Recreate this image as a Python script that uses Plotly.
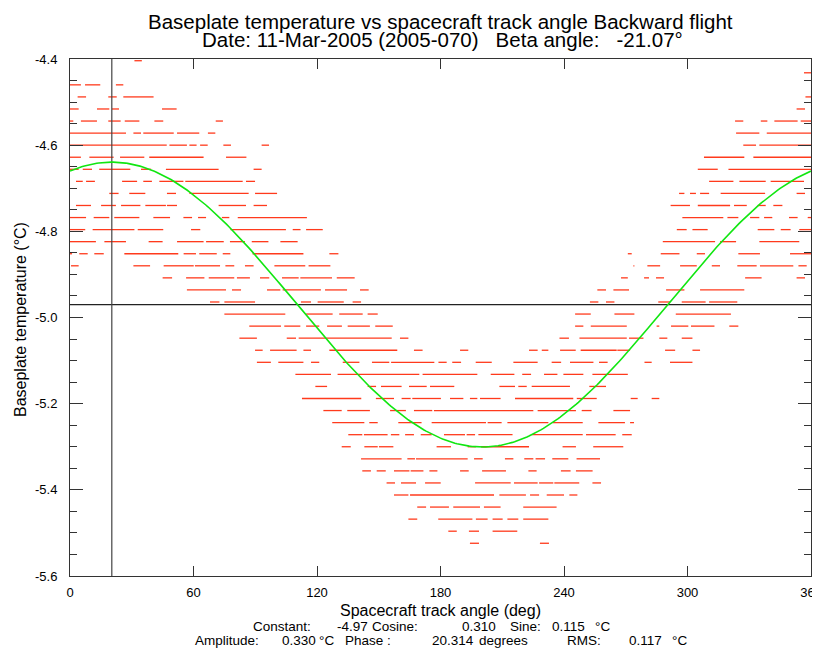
import numpy as np
import plotly.graph_objects as go

# ---------------- data ----------------
# quantised baseplate temperature levels (deg C), top to bottom
level_temps = [-4.404, -4.432, -4.460, -4.488, -4.516, -4.544, -4.572, -4.600,
               -4.628, -4.656, -4.684, -4.712, -4.740, -4.768, -4.796, -4.824,
               -4.852, -4.880, -4.908, -4.936, -4.964, -4.992, -5.020, -5.048,
               -5.076, -5.104, -5.132, -5.160, -5.188, -5.216, -5.244, -5.272,
               -5.300, -5.328, -5.356, -5.384, -5.412, -5.440, -5.468, -5.496,
               -5.524]

# track-angle runs (start, end in deg) where samples sit on each level
seg_4404 = [(31.3, 34.9)]
seg_4432 = [(356.6, 360)]
seg_4460 = [(0, 5.3), (7.3, 14.7), (22.3, 25.9)]
seg_4488 = [(3.7, 7.8), (18.6, 22.7), (25.9, 40.6), (357.3, 360)]
seg_4516 = [(0, 4.2), (13.1, 19.1), (20.4, 23.8), (44.7, 51.8), (353, 357.1)]
seg_4544 = [(0, 1.6), (5.3, 13.1), (18.6, 24.6), (26.6, 33.7), (41, 45.3), (70.8, 74.3),
            (323.1, 327.1), (335.6, 338.8), (342.2, 353.5), (355, 360)]
seg_4572 = [(0, 27.2), (30.8, 34.5), (35.6, 50.4), (52, 62.8), (67, 70.6),
            (323.6, 334.9), (338.5, 360)]
seg_4600 = [(0, 47), (48.3, 56.8), (58, 61.5), (63.2, 66.9), (74.5, 78.2), (93.1, 96.7),
            (327.1, 333.3), (334.9, 360)]
seg_4628 = [(0, 5.3), (9.4, 21.2), (24.3, 36.1), (38.5, 64.9), (75.8, 85.7),
            (308, 327.6), (332, 360)]
seg_4656 = [(0, 4.2), (6.2, 10.7), (14.2, 29.3), (34.5, 39.4), (46.6, 72.2), (89.2, 93.1),
            (305, 314.7), (319.9, 360)]
seg_4684 = [(2.9, 6.2), (7.8, 12.1), (25.3, 32.6), (35.6, 39.8), (43.4, 55.1), (56, 83.9),
            (85.5, 89.9), (310.5, 322.3), (325.2, 338), (340.4, 356.6)]
seg_4712 = [(19.1, 23.6), (28.8, 36.6), (47.1, 51.5), (58, 86.8), (89.9, 100.6),
            (295.9, 298.5), (301.2, 304.1), (306.1, 310.5), (316.1, 337.7), (353, 357.1)]
seg_4740 = [(2.9, 10.2), (15.1, 22.3), (24.8, 34.2), (36.6, 46.6), (47.1, 52), (72.2, 85.5),
            (89.2, 95.7), (291.8, 301.2), (305, 320.7), (322.6, 328.8), (334.1, 338),
            (341.7, 346.1)]
seg_4768 = [(0, 7.8), (11.5, 19.1), (21.5, 33.7), (40.5, 48.6), (55.1, 59.3), (62.2, 66.1),
            (73.8, 77.4), (81.5, 115.1), (297.5, 317.4), (319.4, 324.7), (330.4, 334.9),
            (337.2, 341.2), (349.3, 353.5), (358.4, 360)]
seg_4796 = [(0, 7.4), (11, 31.3), (32.9, 45.3), (58.8, 63.3), (78, 104.9), (108.2, 112),
            (114.7, 122.8), (294.8, 299.6), (302.4, 309.8), (334.1, 342.2), (345.3, 350.1),
            (354.3, 360)]
seg_4824 = [(0, 12.6), (16.7, 27.2), (38.2, 45), (52, 64.9), (66.1, 74.7), (77.7, 85),
            (88.3, 96.4), (102.2, 110.6), (288, 313.4), (315.8, 323.6), (334.9, 354.3)]
seg_4852 = [(0, 1), (4.5, 8.6), (11.8, 16.4), (26.4, 52.6), (55.2, 61.2), (62.8, 71.3),
            (74.2, 77.9), (88.7, 113.4), (126, 130.4), (271, 272.9), (287, 296.1),
            (304.5, 308.5), (324.7, 335.2), (349.8, 360)]
seg_4880 = [(0.5, 4.2), (30.8, 38.9), (45.5, 60.1), (60.7, 72.9), (75.5, 79.8), (85, 89.2),
            (99.3, 114.3), (115.9, 126.5), (273.7, 274.2), (280.5, 286.7), (296.4, 304.5),
            (311.8, 315.8), (324.2, 333.6), (335.2, 351.4), (353.9, 357.9)]
seg_4908 = [(45, 49.6), (56.4, 65.3), (67.4, 79.8), (81.1, 87.4), (92.3, 96.8), (103, 111.1),
            (111.9, 127.3), (129.6, 138.3), (267.7, 271), (278.9, 281.3), (284.7, 288.6),
            (328, 336), (353, 357.1)]
seg_4936 = [(56.8, 75.8), (78.7, 83.1), (95.7, 102.2), (103.3, 121.9), (123.9, 134.6),
            (140.9, 145.1), (256.2, 260.4), (264, 271.6), (289.6, 298.5), (306.1, 327.6)]
seg_4964 = [(68, 72.6), (75, 89.9), (112.2, 117.1), (120.3, 133), (137.3, 141.4),
            (252.6, 256.7), (260.4, 264.5), (285.8, 291.5), (297.2, 308.8), (310.5, 324.2)]
seg_4992 = [(75, 104.6), (114.7, 127.6), (130.8, 142.2), (144.6, 149.5), (245.4, 253),
            (264.5, 274.2), (294.3, 321.1)]
seg_5020 = [(87.1, 102.5), (104.1, 111.9), (114.7, 121.1), (124.9, 132.1), (134.9, 145.7),
            (148.3, 156.8), (245.4, 249.4), (253, 270.5), (285, 286.3), (292, 300.4),
            (301.7, 313.1), (320.3, 324.7)]
seg_5048 = [(82.3, 90.8), (105.3, 109.8), (111.1, 156.3), (160.3, 164.4), (237.8, 242.4),
            (247.5, 270.5), (271.6, 278.6), (286.3, 290.2), (297.2, 302.4)]
seg_5076 = [(89.9, 93.6), (97.2, 110.1), (113.4, 117.1), (126, 159), (167.1, 171.3),
            (189.5, 193.5), (223, 227.2), (229.2, 232.4), (238.1, 245.7), (248.1, 265.6),
            (265.9, 272.1), (289.1, 294), (302.4, 306.1)]
seg_5104 = [(90.8, 97.6), (101.2, 113.4), (117.1, 121.1), (132.5, 140.6), (146.7, 155.1),
            (156, 177), (179, 183), (185.7, 190), (197.1, 204.9), (215.4, 227.2), (234, 238.6),
            (242.9, 254.3), (257, 261.2), (279.1, 282.6), (291.5, 302.4)]
seg_5132 = [(109.5, 126.8), (130, 169.7), (171.3, 197.9), (204.4, 215.9), (219.7, 224),
            (230.3, 236.8), (239.7, 249.4), (253.8, 271)]
seg_5160 = [(119.2, 124.9), (144.6, 148.7), (151.1, 161.1), (164.7, 173.3), (174.9, 186.7),
            (208.6, 216.2), (217.8, 221.9), (224.3, 242.9), (252.3, 260.4)]
seg_5188 = [(112.7, 141.5), (148.6, 157.4), (161.1, 165.5), (166.3, 180.2), (184.6, 191.1),
            (194.3, 197.9), (199.2, 209.2), (216.2, 244.5), (246.2, 255.9), (272.4, 275.8),
            (282.6, 286.3)]
seg_5216 = [(123.1, 132), (134.7, 145.7), (155.5, 163.2), (167.1, 176), (176.8, 225.1),
            (227.2, 245.8), (248.6, 253.4), (264, 272.1)]
seg_5244 = [(127.4, 143), (145.4, 149.5), (159.5, 170.8), (175.7, 202.1), (202.9, 209.7),
            (212.5, 232.4), (234.5, 249.1), (256.7, 269.6), (272.1, 274)]
seg_5272 = [(135.2, 142), (142.8, 154.3), (155.9, 160), (162.8, 167.1), (170.4, 175.7),
            (181.7, 191.9), (192.7, 196.8), (198.4, 215), (224.3, 249.1), (250.7, 265.1),
            (268.3, 272.9)]
seg_5300 = [(132, 136.4), (143, 149.5), (150.1, 157.1), (178.1, 185.1), (193.2, 197.2),
            (199.7, 223), (239.3, 245.8), (254.2, 268.8)]
seg_5328 = [(141.4, 161.1), (163.9, 167.6), (168.1, 193.2), (196.3, 200.5), (211.3, 215.4),
            (220.7, 225.1), (226.2, 230.8), (234.3, 242.1), (246.1, 257.5)]
seg_5356 = [(142, 146.2), (149, 153.4), (157.4, 164.9), (165.5, 171.7), (174.6, 178.5),
            (189.5, 193.7), (200.2, 211.8), (222.7, 226.7), (238.5, 243.2), (245.8, 253.9)]
seg_5384 = [(153.8, 157.9), (160.8, 168.1), (172.5, 180.1), (196.8, 214.1), (215.7, 227.2),
            (227.9, 234.8), (235.3, 247.4), (253.8, 258)]
seg_5412 = [(157.4, 164.4), (165.2, 206), (208.6, 221.5), (223.5, 227.9), (231.6, 240),
            (242.6, 246.5)]
seg_5440 = [(168.7, 173), (174.9, 184.1), (186.2, 199.2), (201.1, 209.2), (220.2, 236.4)]
seg_5468 = [(164.4, 168.7), (178.9, 195.5), (197.2, 202.9), (205.3, 210.2), (212.5, 217.8),
            (220.2, 232.4)]
seg_5496 = [(183.8, 187.9), (193.8, 198.7), (205.3, 217.3)]
seg_5524 = [(194.3, 198.7), (228.3, 232.7)]

# fit results printed under the chart
fit_constant = -4.97
fit_cosine = 0.310
fit_sine = 0.115
fit_amplitude = 0.330
fit_phase = 20.314
fit_rms = 0.117

x_tick_vals = [0, 60, 120, 180, 240, 300, 360]
x_tick_text = ["0", "60", "120", "180", "240", "300", "360"]
y_tick_vals = [-5.6, -5.4, -5.2, -5.0, -4.8, -4.6, -4.4]
y_tick_text = ["-5.6", "-5.4", "-5.2", "-5.0", "-4.8", "-4.6", "-4.4"]

dash_rows = [seg_4404, seg_4432, seg_4460, seg_4488, seg_4516, seg_4544, seg_4572,
             seg_4600, seg_4628, seg_4656, seg_4684, seg_4712, seg_4740, seg_4768,
             seg_4796, seg_4824, seg_4852, seg_4880, seg_4908, seg_4936, seg_4964,
             seg_4992, seg_5020, seg_5048, seg_5076, seg_5104, seg_5132, seg_5160,
             seg_5188, seg_5216, seg_5244, seg_5272, seg_5300, seg_5328, seg_5356,
             seg_5384, seg_5412, seg_5440, seg_5468, seg_5496, seg_5524]

# ---------------- build figure ----------------
NB = "\u00a0"
FONT = "Liberation Sans, Arial, Helvetica, sans-serif"

dx, dy = [], []
for temp, segs in zip(level_temps, dash_rows):
    for s, e in segs:
        dx += [s, e, None]
        dy += [temp, temp, None]

fig = go.Figure()
fig.add_trace(go.Scatter(x=dx, y=dy, mode="lines",
                         line=dict(color="#ff3a1c", width=1.3),
                         hoverinfo="skip", showlegend=False))

# reference lines: constant and phase
fig.add_trace(go.Scatter(x=[0, 360], y=[fit_constant, fit_constant], mode="lines",
                         line=dict(color="#222222", width=1.2), showlegend=False))
fig.add_trace(go.Scatter(x=[fit_phase, fit_phase], y=[-5.6, -4.4], mode="lines",
                         line=dict(color="#444444", width=1.2), showlegend=False))

# fitted sinusoid
ang = np.linspace(0, 360, 361)
fit_curve = fit_constant + fit_cosine * np.cos(np.radians(ang)) + fit_sine * np.sin(np.radians(ang))
fig.add_trace(go.Scatter(x=ang, y=fit_curve, mode="lines",
                         line=dict(color="#11e611", width=1.6), showlegend=False))

# the page body has an 8px margin; page-pixel layout below accounts for it
BODY = 8
W, H = 820 - BODY, 649 - BODY
ml, mr, mt, mb = 70 - BODY, 9, 59 - BODY, 73
pw, ph = W - ml - mr, H - mt - mb
plot_left_px, plot_bottom_px = ml + BODY, BODY + H - mb


def ypap(ypx):
    return (plot_bottom_px - ypx) / ph


def xpap(xpx):
    return (xpx - plot_left_px) / pw


annotations = []


def add_text(text, xpx, ypx, size, xanchor="center", angle=0):
    annotations.append(dict(text=text, xref="paper", yref="paper",
                            x=xpap(xpx), y=ypap(ypx), showarrow=False,
                            xanchor=xanchor, yanchor="middle", textangle=angle,
                            font=dict(family=FONT, color="black", size=size)))


add_text("Baseplate temperature vs spacecraft track angle Backward flight", 440.5, 21.5, 20.5)
add_text(f"Date: 11-Mar-2005 (2005-070){NB*3}Beta angle:{NB*3}-21.07°", 442, 40, 20.5)
add_text("Spacecraft track angle (deg)", 441, 610, 16)
add_text("Baseplate temperature (°C)", 20, 320, 16, angle=-90)

line1 = [("Constant:", 251), (f"{fit_constant:.2f}", 335), ("Cosine:", 370),
         (f"{fit_cosine:.3f}", 460), ("Sine:", 508), (f"{fit_sine:.3f}", 550), ("°C", 593)]
line2 = [("Amplitude:", 193), (f"{fit_amplitude:.3f}", 280), ("°C", 317), ("Phase :", 343),
         (f"{fit_phase:.3f}", 430), ("degrees", 477), ("RMS:", 565),
         (f"{fit_rms:.3f}", 627), ("°C", 670)]
for txt, xl in line1:
    add_text(txt, xl, 626, 13.5, xanchor="left")
for txt, xl in line2:
    add_text(txt, xl, 640, 13.5, xanchor="left")

fig.update_layout(
    width=W, height=H,
    margin=dict(l=ml, r=mr, t=mt, b=mb, pad=0, autoexpand=False),
    paper_bgcolor="white", plot_bgcolor="white",
    font=dict(family=FONT, color="black", size=13),
    annotations=annotations,
    showlegend=False,
)
fig.update_xaxes(range=[0, 360], tickvals=x_tick_vals, ticktext=x_tick_text,
                 ticks="inside", ticklen=10, tickcolor="#333", tickwidth=1,
                 showline=True, linecolor="#333", linewidth=1, mirror="ticks",
                 showgrid=False, zeroline=False, automargin=False,
                 ticklabeloverflow="allow", ticklabelstandoff=4,
                 tickfont=dict(size=13, family=FONT))
fig.update_yaxes(range=[-5.6, -4.4], tickvals=y_tick_vals, ticktext=y_tick_text,
                 ticks="inside", ticklen=13, tickcolor="#333", tickwidth=1,
                 minor=dict(ticks="inside", ticklen=7, dtick=0.05, tickcolor="#333",
                            showgrid=False),
                 showline=True, linecolor="#333", linewidth=1, mirror="ticks",
                 showgrid=False, zeroline=False, automargin=False,
                 ticklabelstandoff=9, tickfont=dict(size=13, family=FONT))

fig.write_html("out.html")
